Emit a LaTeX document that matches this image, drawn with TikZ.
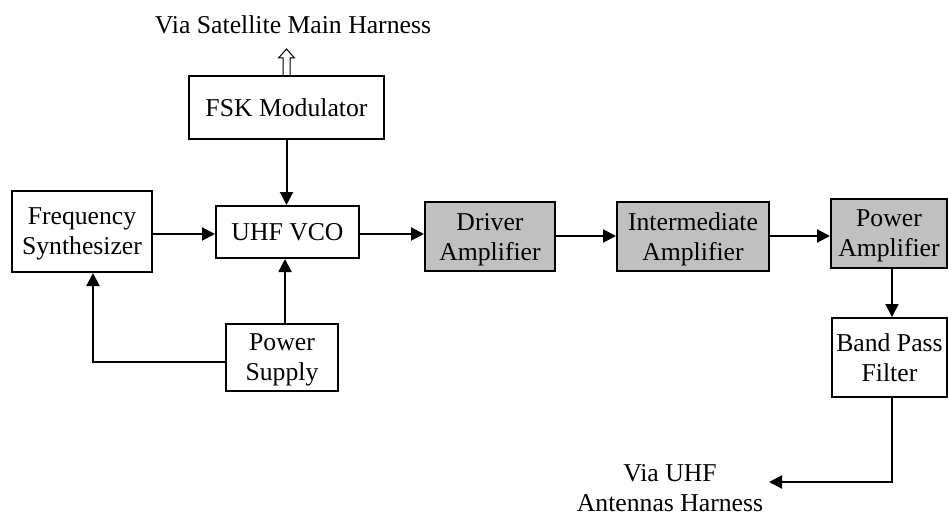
\documentclass[tikz,border=0pt]{standalone}
\usepackage{fontspec}
\setmainfont{Liberation Serif}
\usetikzlibrary{arrows.meta,calc}
\tikzset{
  blk/.style={draw, line width=2pt, inner sep=0pt, align=center, fill=white, text depth=0pt},
  gblk/.style={blk, fill=boxgray},
  arr/.style={line width=2pt, -{Triangle[length=13pt,width=13pt]}},
  lbl/.style={inner sep=0pt, align=center}
}
\definecolor{boxgray}{HTML}{C0C0C0}
\begin{document}
\begin{tikzpicture}[x=1pt,y=-1pt,font=\fontsize{25.7}{30}\selectfont]
\useasboundingbox (0,0) rectangle (948,516);
\node[blk, minimum width=195pt, minimum height=63pt] (fsk) at (286.5,107.5) {FSK Modulator};
\node[blk, minimum width=140pt, minimum height=81pt] (fs) at (82,231.5) {Frequency\\Synthesizer};
\node[blk, minimum width=143pt, minimum height=52pt] (vco) at (287.5,232) {UHF VCO};
\node[gblk, minimum width=130pt, minimum height=69pt] (drv) at (490,236.5) {Driver\\Amplifier};
\node[gblk, minimum width=152pt, minimum height=69pt] (ia) at (693,236.5) {Intermediate\\Amplifier};
\node[gblk, minimum width=116pt, minimum height=69pt] (pa) at (889,233.5) {Power\\Amplifier};
\node[blk, minimum width=112pt, minimum height=67pt] (ps) at (282,357.5) {Power\\Supply};
\node[blk, minimum width=115pt, minimum height=79pt] (bpf) at (889.5,357.5) {Band Pass\\Filter};
\node[lbl] (sat) at (293,25) {Via Satellite Main Harness};
\node[lbl] (uhf) at (670,488) {Via UHF\\Antennas Harness};
\coordinate (uhfout) at (769,482);
% connectors
\draw[arr] (fsk.south) -- (fsk.south |- vco.north);
\draw[arr] (fs.east |- 0,234) -- (vco.west |- 0,234);
\draw[arr] (vco.east |- 0,234) -- (drv.west |- 0,234);
\draw[arr] (drv.east |- 0,236) -- (ia.west |- 0,236);
\draw[arr] (ia.east |- 0,236) -- (pa.west |- 0,236);
\draw[arr] (pa.south -| 892,0) -- (bpf.north -| 892,0);
\draw[arr] (bpf.south -| 892,0) |- (uhfout);
\draw[arr] ($(ps.north)+(3,0)$) -- ($(ps.north |- vco.south)+(3,0)$);
\draw[arr] ([yshift=-4.5pt]ps.west) -| ([xshift=11pt]fs.south);
% open arrow up to satellite harness
\draw[line width=1pt, line join=miter] ($(fsk.north)+(-3.5,0)$) -- ++(0,-17) -- ++(-4.5,0) -- ++(8,-9) -- ++(8,9) -- ++(-4.5,0) -- ++(0,17);
\end{tikzpicture}
\end{document}
